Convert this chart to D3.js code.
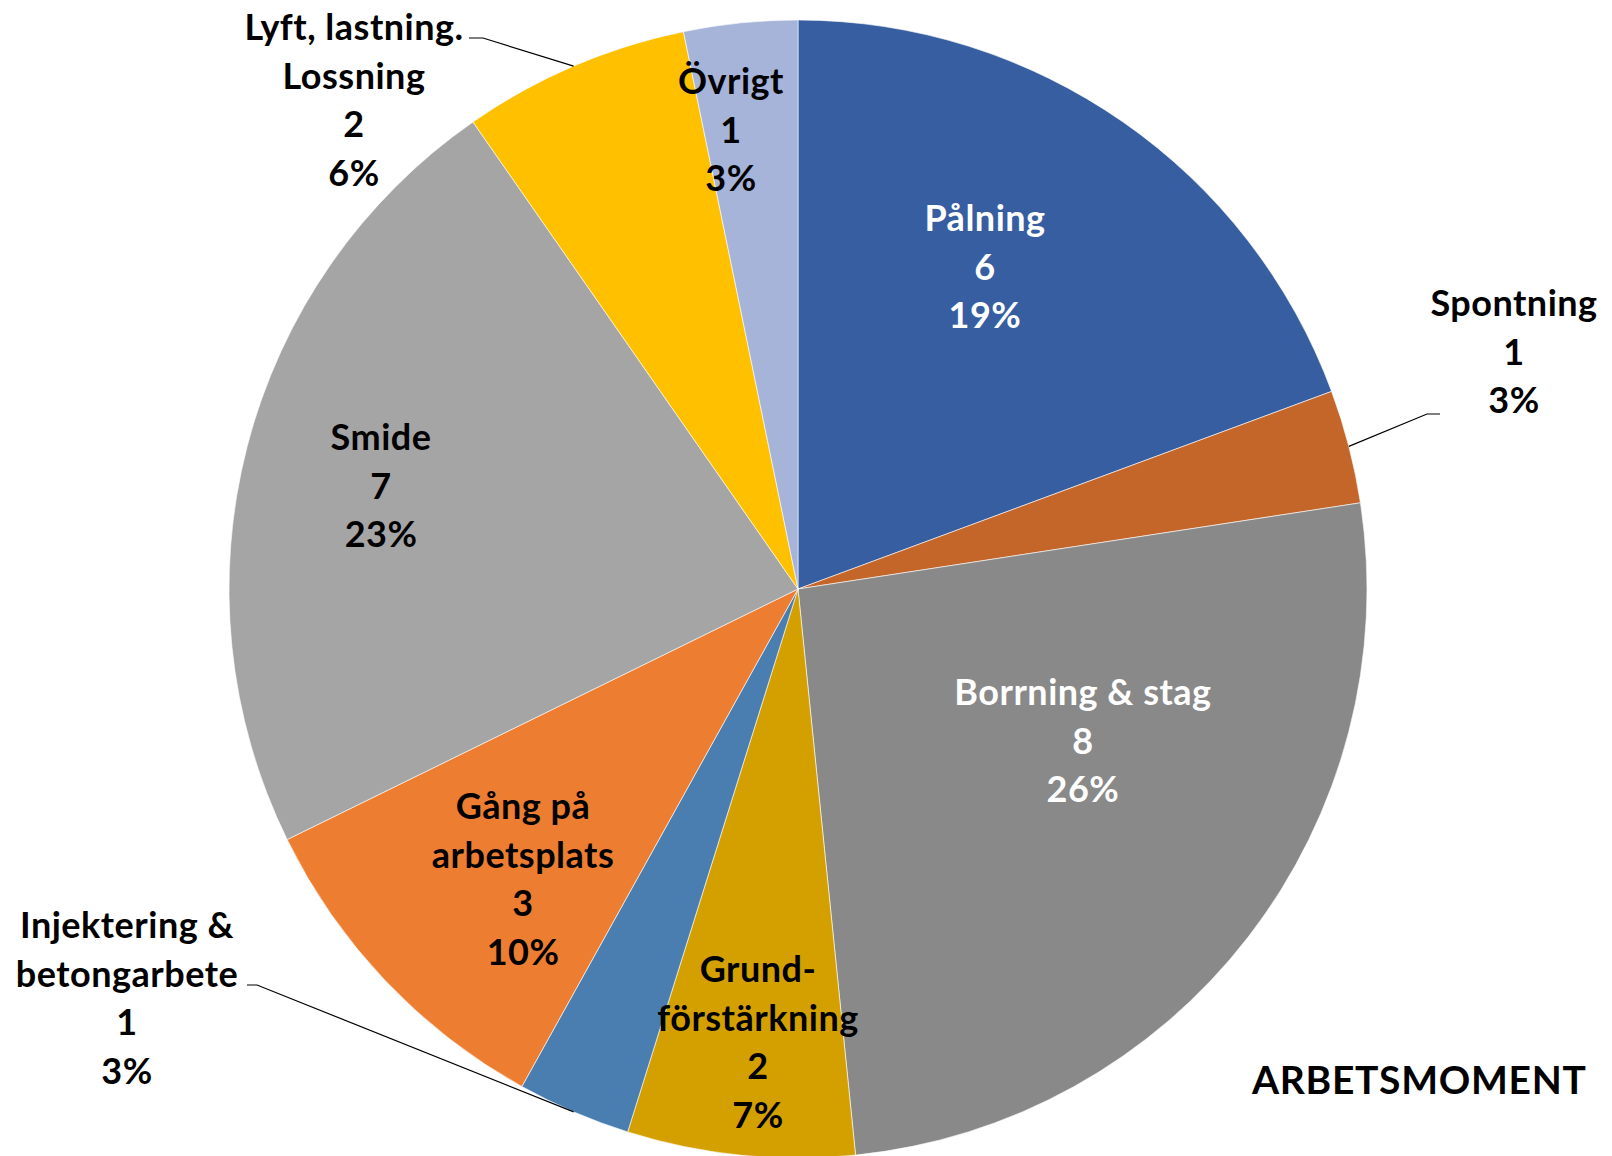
<!DOCTYPE html>
<html>
<head>
<meta charset="utf-8">
<script src="https://cdn.jsdelivr.net/npm/d3@7"></script>
<style>
  body { margin: 0; background: #fff; }
  text { font-family: Lato, "Open Sans", sans-serif; font-weight: bold; }
</style>
</head>
<body>
<div id="chart"></div>
<script>
// data, clockwise from 12 o'clock
const categories = ["Pålning", "Spontning", "Borrning & stag", "Grund-\nförstärkning",
  "Injektering &\nbetongarbete", "Gång på\narbetsplats", "Smide", "Lyft, lastning.\nLossning", "Övrigt"];
const values = [6, 1, 8, 2, 1, 3, 7, 2, 1];
const percentLabels = ["19%", "3%", "26%", "7%", "3%", "10%", "23%", "6%", "3%"];
const colors = ["#365EA0", "#C4652A", "#898989", "#D4A000", "#4A7EB1", "#ED7D31", "#A5A5A5", "#FFC000", "#A6B4DA"];
const title = "ARBETSMOMENT";

// label placement (relative to pie centre), as Excel put them
const labelCenter = [[187, -322], [716, -237], [285, 152], [-40, 453], [-671, 409],
  [-275, 290], [-417, -103], [-444, -489], [-67, -459]];
const labelFill = ["#fff", "#000", "#fff", "#000", "#000", "#000", "#000", "#000", "#000"];
// leader elbow (near label) for the labels outside the pie
const leader = [null, [[629, -175], [642, -175]], null, null, [[-541, 396], [-551, 396]],
  null, null, [[-315, -551], [-329, -551]], null];

const width = 1612, height = 1156;
const cx = 798, cy = 589, radius = 569;
const fontSize = 36, lineH = 48.5;

const svg = d3.select("#chart")
  .append("svg")
    .attr("width", width)
    .attr("height", height);

const g = svg.append("g")
  .attr("transform", `translate(${cx},${cy})`);

const pie = d3.pie().sort(null).value(d => d)(values);
const arc = d3.arc().innerRadius(0).outerRadius(radius);
const edge = d3.arc().innerRadius(radius).outerRadius(radius);

g.selectAll("path.slice")
  .data(pie)
  .enter()
  .append("path")
    .attr("class", "slice")
    .attr("d", arc)
    .attr("fill", (d, i) => colors[i])
    .attr("stroke", "#fff")
    .attr("stroke-width", 0.6);

// leader lines
g.selectAll("path.leader")
  .data(pie.filter((d, i) => leader[i]))
  .enter()
  .append("path")
    .attr("class", "leader")
    .attr("d", d => {
      const p = edge.centroid(d);
      const l = leader[d.index];
      return d3.line()([p, l[0], l[1]]);
    })
    .attr("fill", "none")
    .attr("stroke", "#000")
    .attr("stroke-width", 1.2);

// data labels: name / value / percent
const labels = g.selectAll("text.lbl")
  .data(pie)
  .enter()
  .append("text")
    .attr("class", "lbl")
    .attr("text-anchor", "middle")
    .attr("font-size", fontSize)
    .attr("letter-spacing", 0.5)
    .attr("fill", (d, i) => labelFill[i]);

labels.each(function(d, i) {
  const lines = categories[i].split("\n").concat([String(values[i]), percentLabels[i]]);
  const [x, y] = labelCenter[i];
  const top = y - (lines.length - 1) * lineH / 2;
  d3.select(this).selectAll("tspan")
    .data(lines)
    .enter()
    .append("tspan")
      .attr("x", x)
      .attr("y", (s, k) => top + k * lineH + fontSize * 0.36)
      .text(s => s);
});

svg.append("text")
  .attr("x", 1252)
  .attr("y", 1094)
  .attr("font-size", 39)
  .attr("letter-spacing", 0.7)
  .attr("fill", "#000")
  .text(title);
</script>
</body>
</html>
